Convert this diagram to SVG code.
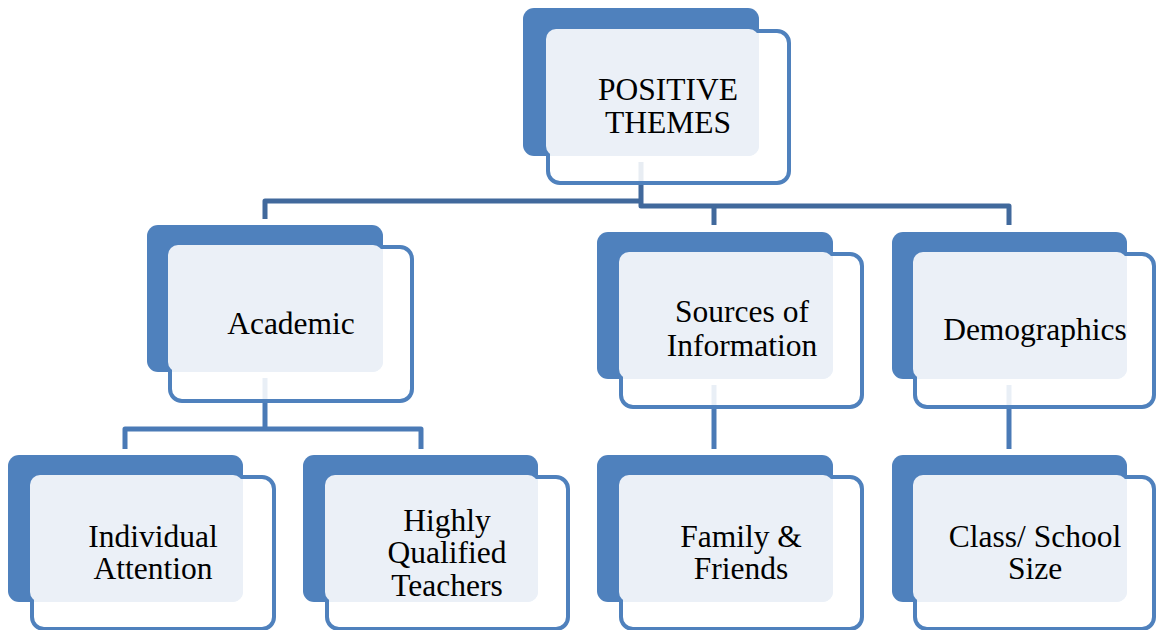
<svg xmlns="http://www.w3.org/2000/svg" width="1157" height="630" viewBox="0 0 1157 630">
<style>
.back{fill:#4F81BD}
.front{fill:#FFFFFF;fill-opacity:0.88;stroke:#4F81BD;stroke-width:4}
.inner{fill:#EBF0F7}
.lbl{font-family:"Liberation Serif","Times New Roman",serif;font-size:31.5px;fill:#000;text-anchor:middle}
.c1{fill:none;stroke:#41699C;stroke-width:5;stroke-linejoin:round}
.c2{fill:none;stroke:#4A7AB6;stroke-width:5;stroke-linejoin:round}
</style>
<rect width="1157" height="630" fill="#FFFFFF"/>
<g id="connectors">
<path class="c1" d="M265,219 V201 H643"/>
<path class="c1" d="M641,162 V206 H1009 V225"/>
<path class="c1" d="M714,206 V225"/>
<path class="c2" d="M265,378 V429"/>
<path class="c2" d="M125,449 V429 H421 V449"/>
<path class="c2" d="M714,385 V449"/>
<path class="c2" d="M1009,385 V449"/>
</g>
<g id="node-positive-themes">
<rect class="back" x="523" y="8" width="236" height="148" rx="11"/>
<rect class="front" x="548" y="31" width="241" height="152" rx="12"/>
<rect class="inner" x="546" y="29" width="213" height="127" rx="10"/>
<text class="lbl" x="668" y="100">POSITIVE</text>
<text class="lbl" x="668" y="133">THEMES</text>
</g>
<g id="node-academic">
<rect class="back" x="147" y="225" width="236" height="147" rx="11"/>
<rect class="front" x="170" y="247" width="242" height="154" rx="12"/>
<rect class="inner" x="168" y="245" width="215" height="127" rx="10"/>
<text class="lbl" x="291" y="334">Academic</text>
</g>
<g id="node-sources">
<rect class="back" x="597" y="232" width="236" height="147" rx="11"/>
<rect class="front" x="621" y="254" width="241" height="153" rx="12"/>
<rect class="inner" x="619" y="252" width="214" height="127" rx="10"/>
<text class="lbl" x="742" y="322">Sources of</text>
<text class="lbl" x="742" y="356">Information</text>
</g>
<g id="node-demographics">
<rect class="back" x="892" y="232" width="235" height="147" rx="11"/>
<rect class="front" x="915" y="254" width="239" height="153" rx="12"/>
<rect class="inner" x="913" y="252" width="214" height="127" rx="10"/>
<text class="lbl" x="1035" y="340">Demographics</text>
</g>
<g id="node-individual">
<rect class="back" x="8" y="455" width="235" height="147" rx="11"/>
<rect class="front" x="32" y="477" width="242" height="152" rx="12"/>
<rect class="inner" x="30" y="475" width="213" height="127" rx="10"/>
<text class="lbl" x="153" y="547">Individual</text>
<text class="lbl" x="153" y="579">Attention</text>
</g>
<g id="node-highly">
<rect class="back" x="303" y="455" width="235" height="147" rx="11"/>
<rect class="front" x="327" y="477" width="241" height="152" rx="12"/>
<rect class="inner" x="325" y="475" width="213" height="127" rx="10"/>
<text class="lbl" x="447" y="531">Highly</text>
<text class="lbl" x="447" y="563">Qualified</text>
<text class="lbl" x="447" y="596">Teachers</text>
</g>
<g id="node-family">
<rect class="back" x="597" y="455" width="236" height="147" rx="11"/>
<rect class="front" x="621" y="477" width="241" height="152" rx="12"/>
<rect class="inner" x="619" y="475" width="214" height="127" rx="10"/>
<text class="lbl" x="741" y="547">Family &amp;</text>
<text class="lbl" x="741" y="579">Friends</text>
</g>
<g id="node-class">
<rect class="back" x="892" y="455" width="235" height="147" rx="11"/>
<rect class="front" x="915" y="477" width="239" height="152" rx="12"/>
<rect class="inner" x="913" y="475" width="214" height="127" rx="10"/>
<text class="lbl" x="1035" y="547">Class/ School</text>
<text class="lbl" x="1035" y="579">Size</text>
</g>
</svg>
